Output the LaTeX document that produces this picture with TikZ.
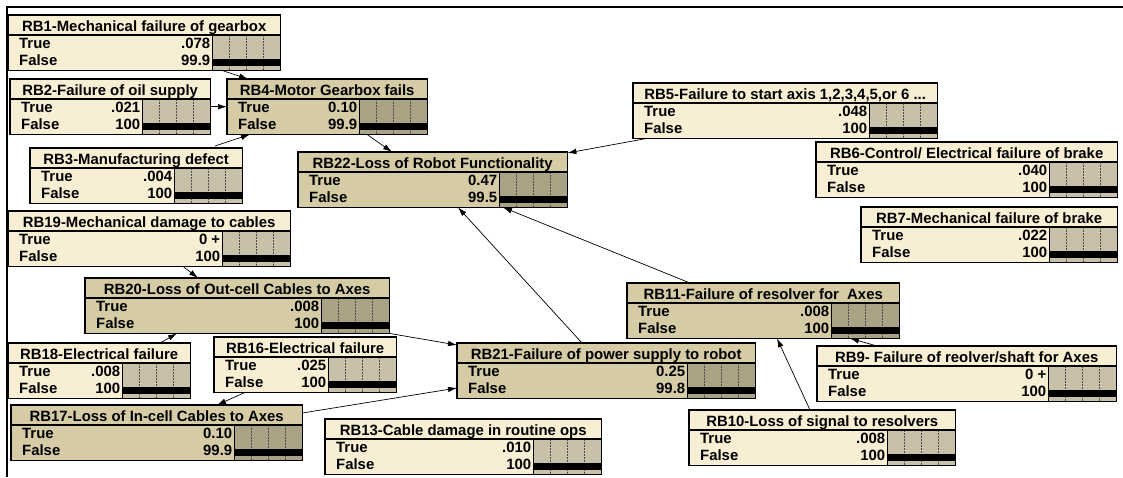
\documentclass[tikz,border=0pt]{standalone}
\usepackage{fontspec}
\setmainfont{Liberation Sans}
\usepackage{tikz}
\usetikzlibrary{calc}
\usetikzlibrary{arrows.meta}

\definecolor{liteFill}{HTML}{F8EED4}
\definecolor{liteBar}{HTML}{C8C0A8}
\definecolor{darkFill}{HTML}{D5CCA5}
\definecolor{darkBar}{HTML}{AAA285}

\tikzset{
	netbox/.style={inner sep=0pt,minimum height=55pt},
	frame/.style={line width=1.2pt},
	bargrid/.style={line width=0.5pt,black!70,dash pattern=on 1.5pt off 1.5pt},
	titletext/.style={inner sep=0pt,anchor=base,font=\bfseries\fontsize{14.9}{16}\selectfont},
	statetext/.style={inner sep=0pt,font=\bfseries\fontsize{14.9}{16}\selectfont},
	link/.style={->,line width=0.7pt,>={Latex[length=9pt,width=5.5pt]}}
}

% belief box: name, kind (lite/dark), x, y (top left), width, title, True, False
\newcommand{\netnode}[8]{%
	\node[netbox,fill=#2Fill,minimum width=#5pt,anchor=north west] (#1) at (#3,#4) {};
	\fill[#2Bar] ($(#1.north east)+(-68,20)$) rectangle (#1.south east);
	\foreach \k in {17,34,51}
		\draw[bargrid] ($(#1.north east)+(\k-68,20)$) -- ($(#1.south east)+(\k-68,0)$);
	\fill ($(#1.north east)+(-68,43.5)$) rectangle ($(#1.north east)+(0,50.5)$);
	\draw[frame] (#1.north west) rectangle (#1.south east);
	\draw[frame] ($(#1.north west)+(0,20)$) -- ($(#1.north east)+(0,20)$);
	\draw[frame] ($(#1.north east)+(-68,20)$) -- ($(#1.south east)+(-68,0)$);
	\node[titletext] at ($(#1.north)+(0,16)$) {#6};
	\node[statetext,anchor=base west] at ($(#1.north west)+(11,33)$) {True};
	\node[statetext,anchor=base west] at ($(#1.north west)+(11,50.5)$) {False};
	\node[statetext,anchor=base east] at ($(#1.north east)+(-70,33)$) {#7};
	\node[statetext,anchor=base east] at ($(#1.north east)+(-70,50.5)$) {#8};
}

\begin{document}
\begin{tikzpicture}[x=1pt,y=-1pt]
	\useasboundingbox (0,0) rectangle (1123,477);
	\draw[line width=2pt] (7,477) -- (7,7) -- (1123,7);

	% gearbox branch
	\netnode{rb1}{lite}{8}{15}{272}{RB1-Mechanical failure of gearbox}{.078}{99.9}
	\netnode{rb2}{lite}{10}{79}{200}{RB2-Failure of oil supply}{.021}{100}
	\netnode{rb4}{dark}{227}{79}{200}{RB4-Motor Gearbox fails}{0.10}{99.9}
	\netnode{rb3}{lite}{30}{148}{212}{RB3-Manufacturing defect}{.004}{100}
	\netnode{rb22}{dark}{298}{152}{269}{RB22-Loss of Robot Functionality}{0.47}{99.5}

	% axis start and brake
	\netnode{rb5}{lite}{633}{83}{304}{RB5-Failure to start axis 1,2,3,4,5,or 6 ...}{.048}{100}
	\netnode{rb6}{lite}{816}{142}{301}{RB6-Control/ Electrical failure of brake}{.040}{100}
	\netnode{rb7}{lite}{861}{207}{256}{RB7-Mechanical failure of brake}{.022}{100}

	% cables and power supply
	\netnode{rb19}{lite}{8}{211}{282}{RB19-Mechanical damage to cables}{0 +}{100}
	\netnode{rb20}{dark}{85}{278}{304}{RB20-Loss of Out-cell Cables to Axes}{.008}{100}
	\netnode{rb18}{lite}{8}{343}{182}{RB18-Electrical failure}{.008}{100}
	\netnode{rb16}{lite}{214}{337}{182}{RB16-Electrical failure}{.025}{100}
	\netnode{rb17}{dark}{11}{405}{291}{RB17-Loss of In-cell Cables to Axes}{0.10}{99.9}
	\netnode{rb13}{lite}{325}{419}{276}{RB13-Cable damage in routine ops}{.010}{100}
	\netnode{rb21}{dark}{457}{343}{298}{RB21-Failure of power supply to robot}{0.25}{99.8}

	% resolvers
	\netnode{rb11}{dark}{627}{283}{272}{RB11-Failure of resolver for~~Axes}{.008}{100}
	\netnode{rb9}{lite}{817}{346}{299}{RB9- Failure of reolver/shaft for Axes}{0 +}{100}
	\netnode{rb10}{lite}{689}{410}{266}{RB10-Loss of signal to resolvers}{.008}{100}

	% links
	\draw[link] ($(rb1.south west)+(214,0)$) -- ($(rb4.north west)+(21,0)$);
	\draw[link] (rb2.east) -- (rb4.west);
	\draw[link] ($(rb3.north west)+(185,-2)$) -- ($(rb4.south west)+(23,0)$);
	\draw[link] ($(rb4.south west)+(140,0)$) -- ($(rb22.north west)+(94,0)$);
	\draw[link] ($(rb5.south west)+(14,0)$) -- ($(rb22.north east)+(0,1)$);
	\draw[link] ($(rb11.north west)+(63,0)$) -- ($(rb22.south west)+(205,0)$);
	\draw[link] ($(rb21.north west)+(125,0)$) -- ($(rb22.south west)+(160,0)$);
	\draw[link] ($(rb19.south west)+(175,0)$) -- ($(rb20.north west)+(113,0)$);
	\draw[link] ($(rb18.north west)+(152,0)$) -- ($(rb20.south west)+(92,0)$);
	\draw[link] (rb20.south east) -- ($(rb21.north west)+(0,2)$);
	\draw[link] ($(rb16.south west)+(31,0)$) -- ($(rb17.north west)+(206,0)$);
	\draw[link] ($(rb17.north east)+(0,8)$) -- ($(rb21.north west)+(0,45)$);
	\draw[link] ($(rb9.north west)+(60,0)$) -- ($(rb11.south west)+(223,0)$);
	\draw[link] ($(rb10.north west)+(121,0)$) -- ($(rb11.south west)+(150,0)$);
\end{tikzpicture}
\end{document}
